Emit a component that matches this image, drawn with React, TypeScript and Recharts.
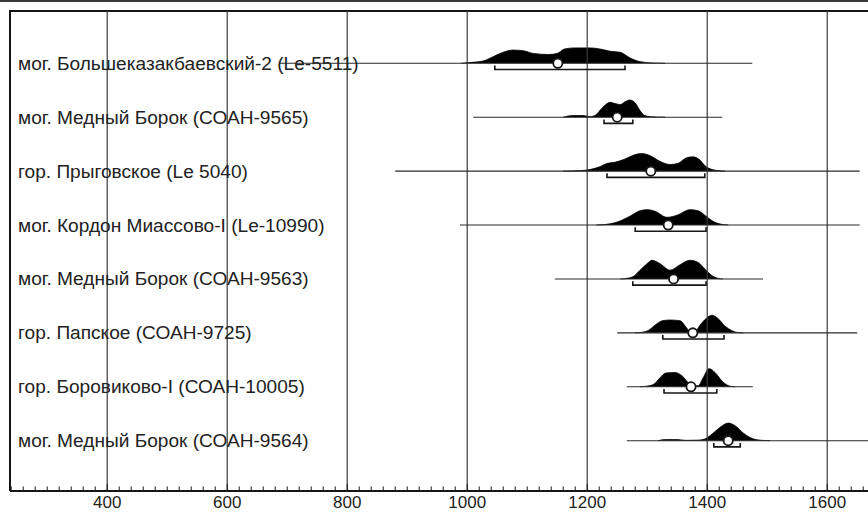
import React from 'react';
import { ComposedChart, XAxis, YAxis, Area, Line, Scatter, ReferenceLine } from 'recharts';

// ---- data ----
const SAMPLE_LABELS = [
  'мог. Большеказакбаевский-2 (Le-5511)',
  'мог. Медный Борок (СОАН-9565)',
  'гор. Прыговское (Le 5040)',
  'мог. Кордон Миассово-I (Le-10990)',
  'мог. Медный Борок (СОАН-9563)',
  'гор. Папское (СОАН-9725)',
  'гор. Боровиково-I (СОАН-10005)',
  'мог. Медный Борок (СОАН-9564)',
];

// full extent of each calibrated distribution (thin line), cal AD
const TAIL_START = [688, 1010, 880, 988, 1146, 1250, 1266, 1266];
const TAIL_END = [1475, 1425, 1654, 1654, 1493, 1650, 1476, 1700];

// highlighted range (bracket), cal AD
const RANGE_FROM = [1046, 1228, 1233, 1280, 1276, 1326, 1328, 1411];
const RANGE_TO = [1263, 1276, 1396, 1398, 1398, 1428, 1416, 1455];

// medians (white circles), cal AD
const MEDIANS = [1151, 1250, 1306, 1335, 1344, 1376, 1373, 1435];

// relative probability densities: [year, relative probability]
const DENSITY_LE5511: [number, number][] = [
  [990, 0], [1000, 0.5], [1026, 2], [1043, 6], [1060, 10], [1076, 12], [1093, 11.5], [1110, 9],
  [1135, 8], [1150, 9], [1162, 13], [1180, 14], [1205, 14], [1221, 13], [1238, 11], [1255, 10],
  [1271, 5], [1288, 1.5], [1310, 0.3], [1330, 0],
];
const DENSITY_SOAN9565: [number, number][] = [
  [1160, 0], [1176, 1.5], [1193, 1.5], [1205, 0.5], [1214, 2], [1226, 9], [1238, 13.5],
  [1246, 12.5], [1255, 11.5], [1263, 14], [1271, 15.6], [1280, 13], [1288, 6], [1296, 1.5],
  [1305, 0.5], [1330, 0],
];
const DENSITY_LE5040: [number, number][] = [
  [1160, 0], [1190, 0.5], [1205, 1.5], [1221, 4], [1233, 7], [1246, 8], [1263, 11], [1280, 15],
  [1291, 16], [1305, 14], [1321, 9], [1338, 6], [1351, 7], [1365, 12], [1376, 13], [1388, 10],
  [1396, 5], [1408, 1.5], [1421, 0.3], [1430, 0],
];
const DENSITY_LE10990: [number, number][] = [
  [1215, 0], [1230, 0.5], [1246, 2], [1271, 8], [1288, 13], [1300, 14], [1313, 12.5], [1333, 7],
  [1350, 9], [1371, 14], [1385, 13], [1398, 8], [1411, 3], [1426, 0.5], [1435, 0],
];
const DENSITY_SOAN9563: [number, number][] = [
  [1255, 0], [1263, 0.3], [1276, 2], [1288, 8], [1300, 14], [1308, 17], [1321, 14], [1338, 8],
  [1355, 13], [1371, 17], [1385, 15], [1396, 9], [1408, 3], [1418, 0.5], [1426, 0],
];
const DENSITY_SOAN9725: [number, number][] = [
  [1280, 0], [1288, 0.3], [1301, 2], [1313, 7], [1325, 11], [1338, 11.7], [1355, 11], [1365, 5],
  [1371, 1.5], [1380, 1.5], [1388, 7], [1398, 13], [1408, 16], [1418, 13], [1430, 6], [1441, 2],
  [1451, 0.3], [1460, 0],
];
const DENSITY_SOAN10005: [number, number][] = [
  [1288, 0], [1296, 0.3], [1310, 2], [1321, 8], [1331, 12.5], [1346, 13], [1358, 10], [1368, 4],
  [1378, 1], [1385, 1], [1393, 8], [1403, 16.5], [1413, 13], [1425, 5], [1438, 0.5], [1446, 0],
];
const DENSITY_SOAN9564: [number, number][] = [
  [1318, 0], [1330, 1], [1348, 1], [1365, 0.3], [1385, 0.5], [1396, 1.5], [1408, 6], [1421, 12],
  [1435, 16], [1448, 13], [1460, 7], [1471, 3], [1483, 0.8], [1496, 0.2], [1505, 0],
];

const DENSITIES = [
  DENSITY_LE5511, DENSITY_SOAN9565, DENSITY_LE5040, DENSITY_LE10990,
  DENSITY_SOAN9563, DENSITY_SOAN9725, DENSITY_SOAN10005, DENSITY_SOAN9564,
];

const X_TICKS = [400, 600, 800, 1000, 1200, 1400, 1600];

// ---- layout / style ----
const CHART_W = 900; // plot continues past the right edge of the picture
const X_DOMAIN: [number, number] = [238, 1721.3];
const Y_DOMAIN: [number, number] = [-0.933, 7.97];
const ROW_PX = 53.9;
const DENSITY_SCALE = 1.1 / ROW_PX;
const BRACKET_OFFSET = 6.2 / ROW_PX;
const BRACKET_TICK = 4 / ROW_PX;
const INK = '#161616';
const FONT = '"Liberation Sans", Arial, sans-serif';

const MINOR_TICKS: number[] = [];
for (let v = 240; v <= 1700; v += 20) MINOR_TICKS.push(v);

const N = SAMPLE_LABELS.length;
const rowBase = (i: number) => N - 1 - i;
const ROW_TICKS = SAMPLE_LABELS.map((_, i) => rowBase(i));

const XTick = (props: any) => {
  const { x, y, payload } = props;
  const v = payload.value;
  const major = v % 200 === 0;
  return (
    <g>
      <line x1={x} x2={x} y1={y} y2={y - (major ? 7 : 4.5)} stroke={INK} strokeWidth={1} />
      {major && X_TICKS.includes(v) ? (
        <text x={x} y={y + 11.5} textAnchor="middle" dominantBaseline="central" fontSize={17} fill="#222" fontFamily={FONT}>
          {v}
        </text>
      ) : null}
    </g>
  );
};

const YTick = (props: any) => {
  const { y, payload } = props;
  const idx = N - 1 - payload.value;
  return (
    <text x={18} y={y} textAnchor="start" dominantBaseline="central" fontSize={19.1} fill="#222" fontFamily={FONT}>
      {SAMPLE_LABELS[idx]}
    </text>
  );
};

const MedianDot = (props: any) => (
  <circle cx={props.cx} cy={props.cy} r={4.6} fill="#fff" stroke={INK} strokeWidth={1.8} />
);

export default function App() {
  return (
    <div style={{ position: 'absolute', left: 0, top: 0, width: 868, height: 512, background: '#fff', overflow: 'hidden' }}>
      <div style={{ position: 'absolute', left: 0, top: 0, width: 868, height: 2, background: '#3a3a3a' }} />
      <div style={{ position: 'absolute', left: 9, top: 9.8, width: 870, height: 2.5, background: INK }} />
      <div style={{ position: 'absolute', left: 0, top: 0 }}>
        <ComposedChart width={CHART_W} height={512} margin={{ top: 11, right: 0, bottom: 0, left: 9 }}>
          <XAxis
            type="number"
            dataKey="x"
            domain={X_DOMAIN}
            allowDataOverflow
            ticks={MINOR_TICKS}
            interval={0}
            tick={<XTick />}
            tickLine={false}
            tickSize={0}
            tickMargin={0}
            height={21}
            axisLine={{ stroke: INK, strokeWidth: 2 }}
          />
          <YAxis
            type="number"
            dataKey="y"
            domain={Y_DOMAIN}
            allowDataOverflow
            ticks={ROW_TICKS}
            interval={0}
            width={1}
            tick={<YTick />}
            tickLine={false}
            tickSize={0}
            tickMargin={0}
            axisLine={{ stroke: INK, strokeWidth: 2 }}
          />
          {X_TICKS.map((t) => (
            <ReferenceLine key={'g' + t} x={t} stroke="#3a3a3a" strokeWidth={1.2} />
          ))}
          {SAMPLE_LABELS.map((_, i) => (
            <Line
              key={'tail' + i}
              data={[
                { x: TAIL_START[i], y: rowBase(i) },
                { x: TAIL_END[i], y: rowBase(i) },
              ]}
              dataKey="y"
              stroke="#2a2a2a"
              strokeWidth={1.1}
              dot={false}
              isAnimationActive={false}
            />
          ))}
          {DENSITIES.map((d, i) => (
            <Area
              key={'dens' + i}
              data={d.map(([x, p]) => ({ x, y: rowBase(i) + p * DENSITY_SCALE }))}
              dataKey="y"
              type="monotone"
              baseValue={rowBase(i)}
              fill="#000"
              fillOpacity={1}
              stroke="#000"
              strokeWidth={0.8}
              isAnimationActive={false}
            />
          ))}
          {SAMPLE_LABELS.map((_, i) => (
            <Line
              key={'rng' + i}
              data={[
                { x: RANGE_FROM[i], y: rowBase(i) - BRACKET_OFFSET + BRACKET_TICK },
                { x: RANGE_FROM[i], y: rowBase(i) - BRACKET_OFFSET },
                { x: RANGE_TO[i], y: rowBase(i) - BRACKET_OFFSET },
                { x: RANGE_TO[i], y: rowBase(i) - BRACKET_OFFSET + BRACKET_TICK },
              ]}
              dataKey="y"
              type="linear"
              stroke={INK}
              strokeWidth={1.6}
              dot={false}
              isAnimationActive={false}
            />
          ))}
          <Scatter
            data={MEDIANS.map((m, i) => ({ x: m, y: rowBase(i) }))}
            dataKey="y"
            shape={<MedianDot />}
            isAnimationActive={false}
          />
        </ComposedChart>
      </div>
    </div>
  );
}
